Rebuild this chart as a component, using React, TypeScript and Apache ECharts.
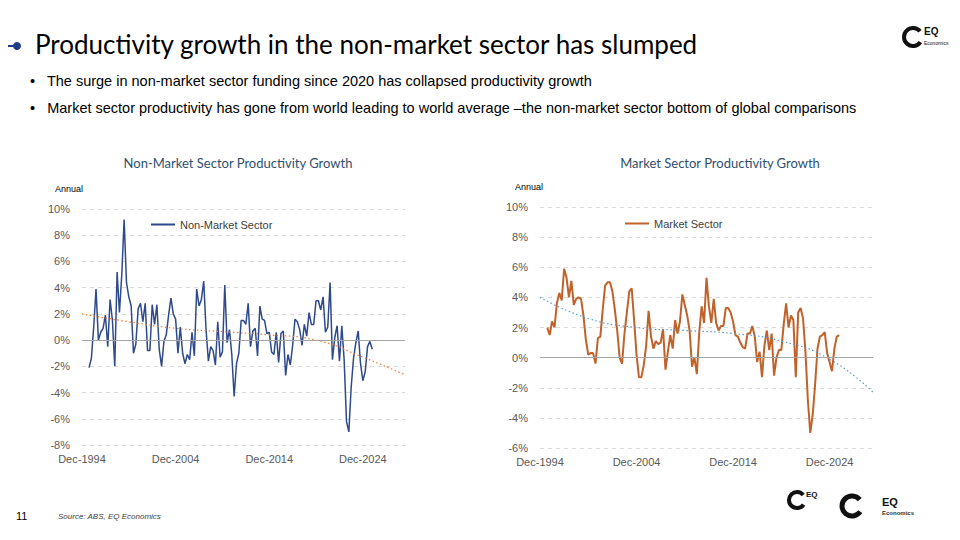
import React, { useEffect, useRef } from "react";
import * as echarts from "echarts";

// quarters from Dec-1994 to Jun-2029
const MONTHS = ["Mar", "Jun", "Sep", "Dec"];
const quarters: string[] = [];
for (let i = 0; i < 139; i++) {
    const q = (3 + i) % 4;
    const y = 1994 + Math.floor((3 + i) / 4);
    quarters.push(MONTHS[q] + "-" + y);
}

// both series start Sep-1995 (index 3)
const nonMarket = [
    -2.1, -1.4, 1.0, 3.9, 0.0, 0.6, 0.9, 1.9, -0.5, 3.1, 1.5, -2.0, 5.2, 2.1, 5.0, 9.2,
    4.4, 3.3, 2.6, -1.0, -0.3, 2.4, 2.8, 1.4, 2.8, -0.8, -0.8, 2.7, 1.2, 2.7, -0.7, -2.0,
    -0.1, 0.4, 1.9, 3.2, 2.0, 1.6, -1.0, 1.0, -1.0, -1.8, -1.1, -1.5, 0.6, -1.2, 3.9, 2.6,
    3.1, 4.5, 0.8, -1.6, -0.5, -0.8, -1.9, 1.4, -1.3, -0.9, 4.2, -0.2, 0.8, -1.1, -4.3, -1.8,
    -1.0, 1.5, 1.5, 1.2, 2.8, -0.5, 0.7, 0.9, -1.2, 2.6, 1.6, 1.5, 0.5, 0.6, -0.9, -1.1,
    0.6, -1.7, 0.5, 0.7, -2.7, -1.1, -1.9, -0.4, 1.6, 1.4, 0.8, -0.4, 1.2, 0.3, 2.1, 1.2,
    1.2, 3.0, 3.0, 2.3, 3.3, 0.6, 1.0, 4.4, -1.5, 0.2, 1.1, -1.6, 1.1, -1.5, -6.2, -7.0,
    -3.6, -1.4, -0.2, 0.7, -1.8, -3.1, -2.4, -0.5, -0.1, -0.7,
];
const market = [
    2.0, 1.5, 2.4, 2.0, 3.6, 4.3, 3.8, 5.9, 5.3, 4.0, 5.1, 3.5, 3.9, 4.0, 3.9, 2.8,
    1.2, 0.2, 0.3, 0.3, -0.4, 1.3, 1.4, 3.2, 4.8, 5.0, 5.0, 4.4, 3.2, 1.8, 0.0, -0.4,
    1.6, 3.0, 4.4, 4.6, 2.5, 0.2, -1.3, -1.3, -0.5, 0.8, 3.1, 1.4, 0.6, 1.1, 0.9, 1.0,
    1.9, -0.8, 0.4, 1.5, 0.6, 2.5, 1.6, 2.4, 4.2, 3.5, 2.8, 1.8, -0.6, 0.0, -1.1, 1.7,
    3.4, 2.3, 5.3, 3.4, 2.3, 3.9, 2.3, 1.8, 2.1, 2.1, 3.3, 3.3, 3.0, 2.4, 1.5, 1.4,
    1.0, 0.7, 0.6, 1.6, 1.6, 2.1, 1.4, -0.3, 0.4, -1.3, 0.8, 1.8, 0.5, 1.6, -1.2, 0.0,
    0.5, 0.5, 2.2, 3.6, 2.0, 2.8, 2.5, -1.3, 3.0, 3.3, 2.6, 0.4, -2.8, -5.0, -3.8, -1.8,
    0.6, 1.4, 1.5, 1.7, 0.3, -0.3, -0.9, 0.6, 1.4, 1.5,
];
// trend lines: [quarter index, value]
const nonMarketTrend: [number, number][] = [
    [0, 2.0], [20, 1.4], [40, 0.9], [60, 0.65], [80, 0.4], [100, 0.0], [120, -1.3], [138, -2.65],
];
const marketTrend: [number, number][] = [
    [0, 4.0], [20, 2.6], [40, 2.0], [60, 1.8], [80, 1.6], [100, 1.1], [120, -0.1], [138, -2.3],
];
const tickLabels = ["Dec-1994", "Dec-2004", "Dec-2014", "Dec-2024"];

const START = 3;
const pad = (vals: number[]) => quarters.map((_, i) => (i >= START && i - START < vals.length ? vals[i - START] : null));
const sparse = (pts: [number, number][]) => {
    const out: (number | null)[] = quarters.map(() => null);
    pts.forEach(([i, v]) => (out[i] = v));
    return out;
};

const FONT = "Liberation Sans";
const axisText = { color: "#595959", fontSize: 11, fontFamily: FONT };

const xAxis = (gridIndex: number) => ({
    type: "category",
    gridIndex,
    data: quarters,
    boundaryGap: false,
    axisLine: { show: false, onZero: false },
    axisTick: { show: false },
    axisLabel: {
        ...axisText,
        interval: 0,
        hideOverlap: false,
        formatter: (v: string) => (tickLabels.includes(v) ? v : ""),
    },
    splitLine: { show: false },
});
const yAxis = (gridIndex: number, min: number) => ({
    type: "value",
    gridIndex,
    min,
    max: 10,
    interval: 2,
    axisLine: { show: false },
    axisTick: { show: false },
    axisLabel: { ...axisText, formatter: "{value}%", margin: 12 },
    splitLine: { lineStyle: { color: "#d9d9d9", type: [4, 4] } },
});
const zeroLine = {
    silent: true,
    symbol: "none",
    label: { show: false },
    lineStyle: { color: "#a6a6a6", type: "solid", width: 1 },
    data: [{ yAxis: 0 }],
};

export default function App() {
    const ref = useRef<HTMLDivElement>(null);

    useEffect(() => {
        if (!ref.current) return;
        const chart = echarts.init(ref.current, null, { renderer: "svg" });
        chart.setOption({
            animation: false,
            backgroundColor: "#ffffff",
            title: [
                {
                    text: "Non-Market Sector Productivity Growth",
                    left: 233, top: 151, textAlign: "center",
                    textStyle: { color: "#2f4f70", fontSize: 13, fontWeight: "normal", fontFamily: "Lato" },
                },
                {
                    text: "Market Sector Productivity Growth",
                    left: 715, top: 151, textAlign: "center",
                    textStyle: { color: "#2f4f70", fontSize: 13, fontWeight: "normal", fontFamily: "Lato" },
                },
            ],
            legend: [
                {
                    data: ["Non-Market Sector"], left: 146, top: 214, icon: "rect", itemWidth: 24, itemHeight: 2,
                    textStyle: { color: "#404040", fontSize: 11, fontFamily: FONT },
                },
                {
                    data: ["Market Sector"], left: 620, top: 213, icon: "rect", itemWidth: 24, itemHeight: 2,
                    textStyle: { color: "#404040", fontSize: 11, fontFamily: FONT },
                },
            ],
            grid: [
                { left: 82, right: 555, top: 209, bottom: 95 },
                { left: 540, right: 87, top: 207, bottom: 92 },
            ],
            xAxis: [xAxis(0), xAxis(1)],
            yAxis: [yAxis(0, -8), yAxis(1, -6)],
            series: [
                {
                    name: "Non-Market Sector", type: "line", xAxisIndex: 0, yAxisIndex: 0,
                    data: pad(nonMarket), showSymbol: false, color: "#2e4a8c", lineStyle: { width: 1.5 },
                    markLine: zeroLine, z: 3,
                },
                {
                    name: "NM trend", type: "line", xAxisIndex: 0, yAxisIndex: 0, data: sparse(nonMarketTrend),
                    connectNulls: true, smooth: true, showSymbol: false, color: "#ed7d31",
                    lineStyle: { width: 1.2, type: [1.5, 2.5] }, z: 4,
                },
                {
                    name: "Market Sector", type: "line", xAxisIndex: 1, yAxisIndex: 1,
                    data: pad(market), showSymbol: false, color: "#c0622a", lineStyle: { width: 2 },
                    markLine: zeroLine, z: 3,
                },
                {
                    name: "M trend", type: "line", xAxisIndex: 1, yAxisIndex: 1, data: sparse(marketTrend),
                    connectNulls: true, smooth: true, showSymbol: false, color: "#5b9bd5",
                    lineStyle: { width: 1.2, type: [1.5, 2.5] }, z: 4,
                },
            ],
            graphic: [
                { type: "line", shape: { x1: 0, y1: 46, x2: 16, y2: 46 }, style: { stroke: "#1f3c88", lineWidth: 2 } },
                { type: "circle", shape: { cx: 17, cy: 46, r: 4 }, style: { fill: "#1f3c88" } },
                {
                    type: "text", left: 35, top: 31,
                    style: { text: "Productivity growth in the non-market sector has slumped", fontSize: 26, fontFamily: "Lato", fill: "#000" },
                },
                {
                    type: "text", left: 30, top: 73,
                    style: { text: "•   The surge in non-market sector funding since 2020 has collapsed productivity growth", fontSize: 14.5, fontFamily: FONT, fill: "#000" },
                },
                {
                    type: "text", left: 30, top: 100,
                    style: { text: "•   Market sector productivity has gone from world leading to world average –the non-market sector bottom of global comparisons", fontSize: 14.5, fontFamily: FONT, fill: "#000" },
                },
                { type: "text", left: 55, top: 184, style: { text: "Annual", fontSize: 9, fontFamily: FONT, fill: "#000" } },
                { type: "text", left: 515, top: 182, style: { text: "Annual", fontSize: 9, fontFamily: FONT, fill: "#000" } },
                { type: "circle", shape: { cx: 0, cy: 515, r: 7 }, style: { fill: "#1f3c88" } },
                { type: "text", left: 16, top: 510, style: { text: "11", fontSize: 11, fontFamily: FONT, fill: "#000" } },
                {
                    type: "text", left: 58, top: 512,
                    style: { text: "Source: ABS, EQ Economics", fontSize: 8, fontStyle: "italic", fontFamily: FONT, fill: "#404040" },
                },
                // logos
                { type: "arc", shape: { cx: 913, cy: 37, r: 9, startAngle: 0.6, endAngle: 5.6 }, style: { stroke: "#111", lineWidth: 4, fill: "none" } },
                { type: "text", left: 924, top: 26, style: { text: "EQ", fontSize: 10, fontWeight: "bold", fontFamily: FONT, fill: "#111" } },
                { type: "text", left: 924, top: 40, style: { text: "Economics", fontSize: 5, fontFamily: FONT, fill: "#111" } },
                { type: "arc", shape: { cx: 797, cy: 500, r: 8, startAngle: 0.6, endAngle: 5.6 }, style: { stroke: "#111", lineWidth: 4, fill: "none" } },
                { type: "text", left: 806, top: 490, style: { text: "EQ", fontSize: 8, fontWeight: "bold", fontFamily: FONT, fill: "#111" } },
                { type: "arc", shape: { cx: 852, cy: 506, r: 10, startAngle: 0.6, endAngle: 5.6 }, style: { stroke: "#111", lineWidth: 5, fill: "none" } },
                { type: "text", left: 882, top: 496, style: { text: "EQ", fontSize: 11, fontWeight: "bold", fontFamily: FONT, fill: "#111" } },
                { type: "text", left: 882, top: 510, style: { text: "Economics", fontSize: 6, fontWeight: "bold", fontFamily: FONT, fill: "#333" } },
            ],
        });
        return () => chart.dispose();
    }, []);

    return <div ref={ref} style={{ width: 960, height: 540, margin: -8 }} />;
}
